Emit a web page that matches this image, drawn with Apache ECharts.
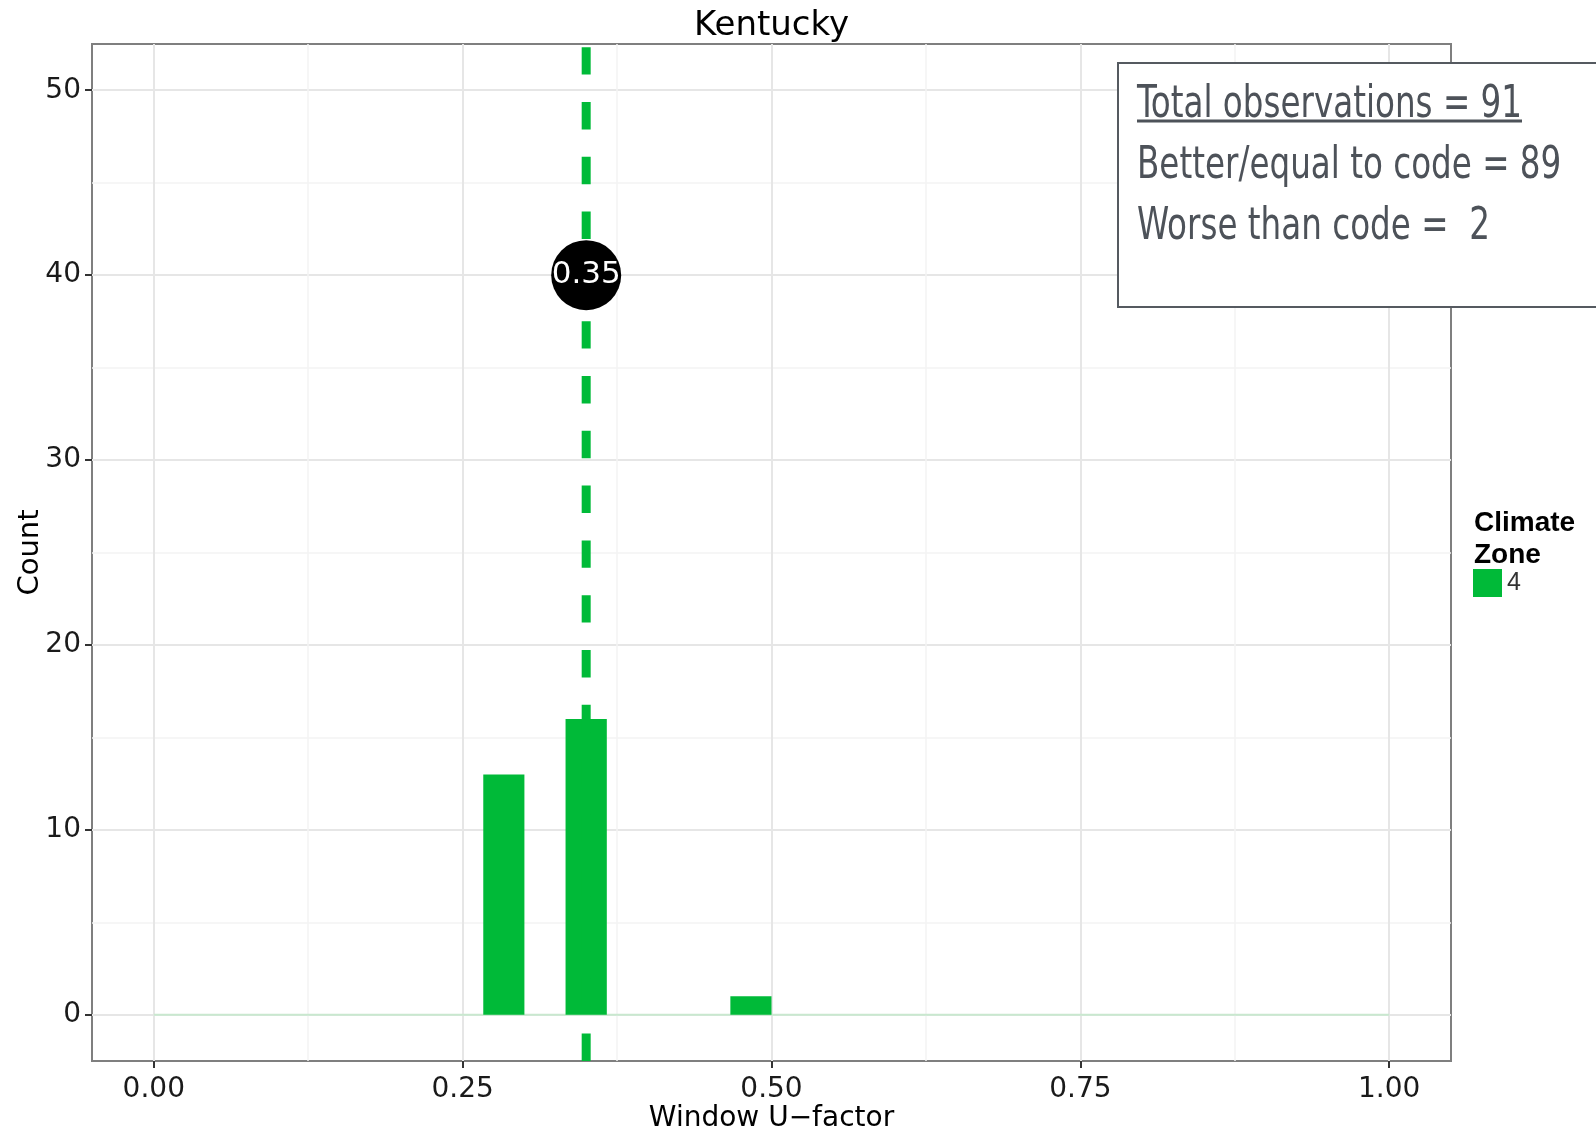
<!DOCTYPE html>
<html><head><meta charset="utf-8">
<script src="https://cdn.jsdelivr.net/npm/echarts@6/dist/echarts.min.js"></script>
<style>html,body{margin:0;padding:0;background:#fff}#c{width:1596px;height:1129px}</style>
</head><body><div id="c"></div><script>
// ---- data ----
const chartTitle = 'Kentucky';
const xName = 'Window U\u2212factor';
const yName = 'Count';
const legendTitle = 'Climate\nZone';
const zoneName = '4';
const binStart = [0.2667, 0.3333, 0.4667];
const binEnd = [0.3, 0.3667, 0.5];
const counts = [13, 16, 1];
const emptyBinsSpan = [0, 1];
const codeValue = 0.35;
const codeLabelY = 40;
const xTicks = [0, 0.25, 0.5, 0.75, 1];
const yTicks = [0, 10, 20, 30, 40, 50];
const xLimits = [-0.05, 1.05];
const yLimits = [-2.5, 52.5];
const noteLines = ['Total observations = 91', 'Better/equal to code = 89', 'Worse than code =  2'];

// ---- layout ----
const P = {l: 92, t: 44, r: 1451, b: 1061};
const pw = P.r - P.l, ph = P.b - P.t;
const px = v => P.l + (v - xLimits[0]) / (xLimits[1] - xLimits[0]) * pw;
const py = v => P.b - (v - yLimits[0]) / (yLimits[1] - yLimits[0]) * ph;
const green = '#00BA38';
const axFont = 'DejaVu Sans';
const tickStyle = {show: true, length: 7, inside: false, lineStyle: {color: '#333', width: 2}};
const majorGrid = {show: true, lineStyle: {color: '#e6e6e6', width: 2}};
const minorGrid = {show: true, lineStyle: {color: '#f3f3f3', width: 1.5}};
const labelStyle = {fontFamily: axFont, fontSize: 28, color: '#1a1a1a'};

const noteFont = '45px "Liberation Sans Narrow", "DejaVu Sans Condensed", sans-serif';
const noteColor = '#4d5259';
const cv = document.createElement('canvas').getContext('2d');
cv.font = noteFont;
const noteTargetW = 385;
const noteScale = noteTargetW / cv.measureText(noteLines[0]).width;
const noteX = 1137, noteY0 = 105, noteDy = 61;

const chart = echarts.init(document.getElementById('c'), null, {renderer: 'canvas'});
chart.setOption({
  animation: false,
  backgroundColor: '#fff',
  title: [
    {text: chartTitle, left: (P.l + P.r) / 2, textAlign: 'center', top: 9, padding: 0,
     textStyle: {fontFamily: axFont, fontSize: 34, fontWeight: 'normal', color: '#000'}},
    {text: legendTitle, left: 1469, top: 502,
     textStyle: {fontFamily: 'Liberation Sans', fontSize: 28, fontWeight: 'bold', lineHeight: 32, color: '#000'}}
  ],
  legend: {
    data: [zoneName], left: 1473, top: 569, padding: 0, itemWidth: 29, itemHeight: 28, icon: 'rect',
    textStyle: {fontFamily: 'Liberation Sans', fontSize: 25, color: '#333'}
  },
  grid: [
    {left: P.l, top: P.t, width: pw, height: ph, show: true, borderColor: '#7f7f7f', borderWidth: 2,
     backgroundColor: 'transparent', outerBoundsMode: 'none', containLabel: false},
    {left: P.l, width: pw, top: py(yTicks[yTicks.length - 1]), height: py(yTicks[0]) - py(yTicks[yTicks.length - 1]),
     outerBoundsMode: 'none', containLabel: false},
    {left: px(xTicks[0]), width: px(xTicks[xTicks.length - 1]) - px(xTicks[0]), top: P.t, height: ph,
     outerBoundsMode: 'none', containLabel: false}
  ],
  xAxis: [
    {type: 'value', gridIndex: 0, min: xLimits[0], max: xLimits[1], show: false},
    {type: 'value', gridIndex: 1, min: 0, max: 1, show: false},
    {type: 'value', gridIndex: 2, position: 'bottom', min: xTicks[0], max: xTicks[xTicks.length - 1], interval: xTicks[1] - xTicks[0],
     axisLine: {show: false, onZero: false}, axisTick: tickStyle,
     axisLabel: Object.assign({margin: 15, formatter: v => v.toFixed(2)}, labelStyle),
     splitLine: majorGrid, minorTick: {show: false, splitNumber: 2}, minorSplitLine: minorGrid,
     name: xName, nameLocation: 'middle', nameGap: 44, nameMoveOverlap: false,
     nameTextStyle: {fontFamily: axFont, fontSize: 28, color: '#000'}}
  ],
  yAxis: [
    {type: 'value', gridIndex: 0, min: yLimits[0], max: yLimits[1], show: false},
    {type: 'value', gridIndex: 1, min: yTicks[0], max: yTicks[yTicks.length - 1], interval: yTicks[1] - yTicks[0],
     axisLine: {show: false, onZero: false}, axisTick: tickStyle,
     axisLabel: Object.assign({margin: 11}, labelStyle),
     splitLine: majorGrid, minorTick: {show: false, splitNumber: 2}, minorSplitLine: minorGrid,
     name: yName, nameLocation: 'middle', nameGap: 47, nameRotate: 90, nameMoveOverlap: false,
     nameTextStyle: {fontFamily: axFont, fontSize: 29, color: '#000'}},
    {type: 'value', gridIndex: 2, min: 0, max: 1, show: false}
  ],
  series: [
    {type: 'line', name: 'empty', xAxisIndex: 0, yAxisIndex: 0, data: emptyBinsSpan.map(x => [x, 0]),
     symbol: 'none', silent: true, z: 1, lineStyle: {color: '#c9e8cf', width: 2}},
    {type: 'custom', name: zoneName, xAxisIndex: 0, yAxisIndex: 0, z: 2,
     itemStyle: {color: green},
     data: binStart.map((s, i) => [s, binEnd[i], counts[i]]),
     encode: {x: [0, 1], y: 2},
     renderItem: (params, api) => {
       const a = api.coord([api.value(0), api.value(2)]);
       const b = api.coord([api.value(1), 0]);
       return {type: 'rect', shape: {x: a[0], y: a[1], width: b[0] - a[0], height: b[1] - a[1]}, style: {fill: green}};
     }},
    {type: 'line', name: 'code', xAxisIndex: 0, yAxisIndex: 0, z: 3, silent: true, symbol: 'none',
     data: [[codeValue, yLimits[0]], [codeValue, yLimits[1]]],
     lineStyle: {color: green, width: 9, type: [27.4, 27.4], cap: 'butt'}},
    {type: 'scatter', name: 'codeLabel', xAxisIndex: 0, yAxisIndex: 0, z: 4, silent: true,
     data: [[codeValue, codeLabelY]], symbolSize: 70, itemStyle: {color: '#000', opacity: 1},
     label: {show: true, position: 'inside', formatter: () => codeValue.toFixed(2), color: '#fff', fontFamily: axFont, fontSize: 31}}
  ],
  graphic: [
    {type: 'rect', shape: {x: 1118, y: 63, width: 520, height: 244}, style: {fill: '#fff', stroke: '#555a60', lineWidth: 2}, z: 10},
    ...noteLines.map((t, i) => ({type: 'text', x: noteX, y: noteY0 + i * noteDy, scaleX: noteScale, z: 11,
      style: {text: t, font: noteFont, fill: noteColor, verticalAlign: 'middle', align: 'left'}})),
    {type: 'line', shape: {x1: noteX, y1: 121, x2: noteX + noteTargetW, y2: 121}, style: {stroke: noteColor, lineWidth: 3}, z: 11}
  ]
});
</script></body></html>
